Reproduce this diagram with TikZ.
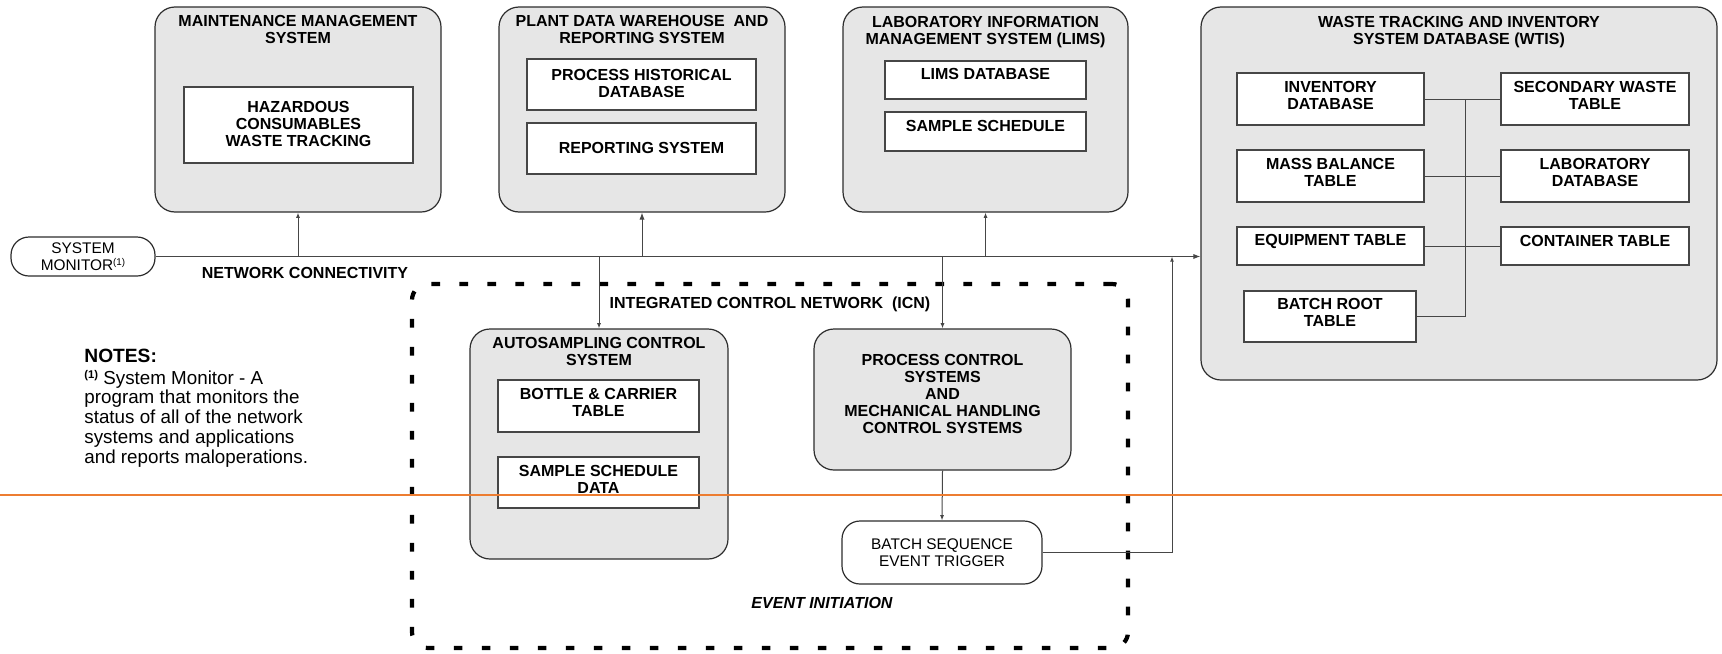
\documentclass[tikz,border=0pt]{standalone}
\usepackage{fontspec}
\setmainfont{Liberation Sans}
\usetikzlibrary{fit,arrows.meta}
\definecolor{bg}{RGB}{230,230,230}
\definecolor{edge}{RGB}{45,45,45}
\definecolor{tedge}{RGB}{70,70,70}
\definecolor{orangeline}{RGB}{237,125,49}
\begin{document}
\begin{tikzpicture}[x=0.5pt,y=-0.5pt,
  bigbox/.style={draw=edge, fill=bg, line width=0.6pt, rounded corners=10pt, inner sep=0pt},
  tbox/.style={draw=tedge, fill=white, line width=0.6pt, inner sep=0pt},
  pill/.style={draw=edge, fill=white, line width=0.6pt, rounded corners=9pt, inner sep=0pt},
  ttl/.style={font=\bfseries\fontsize{8}{8.5}\selectfont, align=center, inner sep=0pt},
  txt/.style={font=\fontsize{7.7}{8.5}\selectfont, align=center, inner sep=0pt},
  note/.style={font=\fontsize{9.4}{10}\selectfont, anchor=base west, inner sep=0pt},
  conn/.style={draw=tedge, line width=0.5pt},
  arr/.style={conn, -{Latex[length=3.5pt,width=2.6pt]}},
  sarr/.style={conn, -{Latex[length=2.6pt,width=2pt]}},
  icnbox/.style={draw=black, line width=2.1pt, dash pattern=on 4.3pt off 9.7pt, rounded corners=8pt, inner sep=0pt},
]
\useasboundingbox (0,0) rectangle (1722,653);

% Maintenance Management System
\node[bigbox, fit={(155,7)(441,212)}] (mms) {};
\node[ttl] (mmsT) at (298,29.5) {MAINTENANCE MANAGEMENT\\SYSTEM};
\node[tbox, fit={(184,87)(413,163)}] (haz) {};
\node[ttl] (hazT) at (298.5,124) {HAZARDOUS\\CONSUMABLES\\WASTE TRACKING};

% Plant Data Warehouse
\node[bigbox, fit={(499,7)(785,212)}] (pdw) {};
\node[ttl] (pdwT) at (642,29.5) {PLANT DATA WAREHOUSE\ \ AND\\REPORTING SYSTEM};
\node[tbox, fit={(527,59)(756,110)}] (phd) {};
\node[ttl] (phdT) at (641.5,83.5) {PROCESS HISTORICAL\\DATABASE};
\node[tbox, fit={(527,123)(756,174)}] (rep) {};
\node[ttl] (repT) at (641.5,148) {REPORTING SYSTEM};

% LIMS
\node[bigbox, fit={(843,7)(1128,212)}] (lims) {};
\node[ttl] (limsT) at (985.5,32) {LABORATORY INFORMATION\\MANAGEMENT SYSTEM (LIMS)};
\node[tbox, fit={(885,61)(1086,99)}] (limsdb) {};
\node[ttl] (limsdbT) at (985.5,74) {LIMS DATABASE};
\node[tbox, fit={(885,112)(1086,151)}] (ss) {};
\node[ttl] (ssT) at (985.5,126) {SAMPLE SCHEDULE};

% WTIS
\node[bigbox, fit={(1201,7)(1717,380)}] (wtis) {};
\node[ttl] (wtisT) at (1459,32) {WASTE TRACKING AND INVENTORY\\SYSTEM DATABASE (WTIS)};
\node[tbox, fit={(1237,73)(1424,125)}] (inv) {};
\node[ttl] (invT) at (1330.5,95.5) {INVENTORY\\DATABASE};
\node[tbox, fit={(1501,73)(1689,125)}] (sec) {};
\node[ttl] (secT) at (1595,95.5) {SECONDARY WASTE\\TABLE};
\node[tbox, fit={(1237,150)(1424,202)}] (mass) {};
\node[ttl] (massT) at (1330.5,172.5) {MASS BALANCE\\TABLE};
\node[tbox, fit={(1501,150)(1689,202)}] (lab) {};
\node[ttl] (labT) at (1595,172.5) {LABORATORY\\DATABASE};
\node[tbox, fit={(1237,227)(1424,265)}] (equip) {};
\node[ttl] (equipT) at (1330.5,241) {EQUIPMENT TABLE};
\node[tbox, fit={(1501,227)(1689,265)}] (cont) {};
\node[ttl] (contT) at (1595,241) {CONTAINER TABLE};
\node[tbox, fit={(1244,291)(1416,342)}] (broot) {};
\node[ttl] (brootT) at (1330,312.5) {BATCH ROOT\\TABLE};
\coordinate (bustop) at (1465,99);
\draw[conn] (inv.east) -- (sec.west);
\draw[conn] (mass.east) -- (lab.west);
\draw[conn] (equip.east) -- (cont.west);
\draw[conn] (broot.east) -| (bustop);

% System monitor and network
\node[pill, fit={(11,237)(155,276)}] (sysmon) {};
\node[txt] (sysmonT) at (83,256.5) {SYSTEM\\MONITOR\raisebox{2.6pt}{\fontsize{4.9}{5}\selectfont(1)}};
\draw[arr] (sysmon.east) -- (wtis.west |- sysmon.east);
\draw[sarr] (mms.south |- sysmon.east) -- (mms.south);
\draw[arr] (pdw.south |- sysmon.east) -- (pdw.south);
\draw[sarr] (lims.south |- sysmon.east) -- (lims.south);
\node[ttl] (netlbl) at (305,273) {NETWORK CONNECTIVITY};

% ICN
\node[icnbox, fit={(412,284)(1128,648)}] (icn) {};
\node[ttl] (icnlbl) at (770,304) {INTEGRATED CONTROL NETWORK\ \ (ICN)};

\node[bigbox, fit={(470,329)(728,559)}] (auto) {};
\node[ttl] (autoT) at (599,351.5) {AUTOSAMPLING CONTROL\\SYSTEM};
\node[tbox, fit={(498,380)(699,432)}] (bottle) {};
\node[ttl] (bottleT) at (598.5,402.5) {BOTTLE \& CARRIER\\TABLE};
\node[tbox, fit={(498,457)(699,508)}] (ssd) {};
\node[ttl] (ssdT) at (598.5,479.5) {SAMPLE SCHEDULE\\DATA};

\node[bigbox, fit={(814,329)(1071,470)}] (pc) {};
\node[ttl] (pcT) at (942.5,394) {PROCESS CONTROL\\SYSTEMS\\AND\\MECHANICAL HANDLING\\CONTROL SYSTEMS};

\node[pill, fit={(842,521)(1042,584)}] (bset) {};
\node[txt] (bsetT) at (942,552.5) {BATCH SEQUENCE\\EVENT TRIGGER};

\draw[sarr] (auto.north |- sysmon.east) -- (auto.north);
\draw[sarr] (pc.north |- sysmon.east) -- (pc.north);
\draw[sarr] (pc.south) -- (bset.north);
\coordinate (trig) at (1172,256.5);
\draw[sarr] (bset.east) -| (trig);

\node[ttl, font=\bfseries\itshape\fontsize{8}{8.5}\selectfont] (evlbl) at (822,603) {EVENT INITIATION};

% Notes
\node[note, font=\bfseries\fontsize{9.6}{10}\selectfont] (notesT) at (84,362) {NOTES:};
\node[note] (n1) at (84,384) {\raisebox{3pt}{\bfseries\fontsize{5.6}{6}\selectfont(1)} System Monitor - A};
\node[note] (n2) at (84,403.5) {program that monitors the};
\node[note] (n3) at (84,423.5) {status of all of the network};
\node[note] (n4) at (84,443.5) {systems and applications};
\node[note] (n5) at (84,463.5) {and reports maloperations.};

% orange rule (drawn over everything)
\draw[orangeline, line width=1pt] (0,495) -- (1722,495);
\end{tikzpicture}
\end{document}
